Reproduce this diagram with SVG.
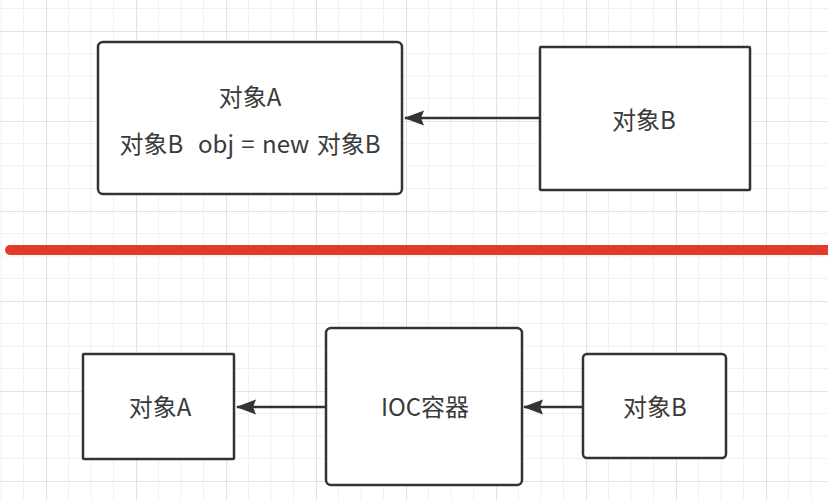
<svg xmlns="http://www.w3.org/2000/svg" width="828" height="500" viewBox="0 0 828 500">
<style>
.box{fill:#fff;stroke:#333;stroke-width:2.5}
.lbl{font-family:"Noto Sans CJK SC","Liberation Sans",sans-serif;font-size:24px;fill:#3a3a3a;text-anchor:middle;dominant-baseline:central}
.edge{fill:none;stroke:#333;stroke-width:2.5}
</style>
<defs>
<pattern id="grid" patternUnits="userSpaceOnUse" x="46" y="31" width="90" height="90">
<path d="M22.5 0V90M45 0V90M67.5 0V90M0 22.5H90M0 45H90M0 67.5H90" stroke="#f1f1f1" stroke-width="1" fill="none"/>
<path d="M0.5 0V90M0 0.5H90" stroke="#e2e2e2" stroke-width="1.2" fill="none"/>
</pattern>
<marker id="arr" viewBox="0 0 20 16" refX="19" refY="8" markerWidth="20" markerHeight="16" markerUnits="userSpaceOnUse" orient="auto">
<path d="M0 0.5L20 8L0 15.5L3 8Z" fill="#333"/>
</marker>
</defs>
<rect width="828" height="500" fill="#fff"/>
<rect width="828" height="500" fill="url(#grid)"/>
<line x1="10" y1="250" x2="840" y2="250" stroke="#e23b2a" stroke-width="10" stroke-linecap="round"/>
<g id="connectors">
<line class="edge" x1="540" y1="118" x2="405" y2="118" marker-end="url(#arr)"/>
<line class="edge" x1="326" y1="407" x2="237" y2="407" marker-end="url(#arr)"/>
<line class="edge" x1="583" y1="407" x2="524" y2="407" marker-end="url(#arr)"/>
</g>
<g id="top-a">
<rect class="box" x="98" y="42" width="304" height="152" rx="5"/>
<text class="lbl" x="250" y="95.5">对象A</text>
<text class="lbl" x="250" y="142.5" word-spacing="2" xml:space="preserve">对象B  obj = new 对象B</text>
</g>
<g id="top-b">
<rect class="box" x="540" y="47" width="210" height="143" rx="1"/>
<text class="lbl" x="644" y="118">对象B</text>
</g>
<g id="bottom-a">
<rect class="box" x="83" y="354" width="151" height="105" rx="1"/>
<text class="lbl" x="160" y="405.5">对象A</text>
</g>
<g id="ioc">
<rect class="box" x="326" y="328" width="196" height="157" rx="5"/>
<text class="lbl" x="425" y="405">IOC容器</text>
</g>
<g id="bottom-b">
<rect class="box" x="583" y="354" width="143" height="104" rx="4"/>
<text class="lbl" x="655" y="405.5">对象B</text>
</g>
</svg>
